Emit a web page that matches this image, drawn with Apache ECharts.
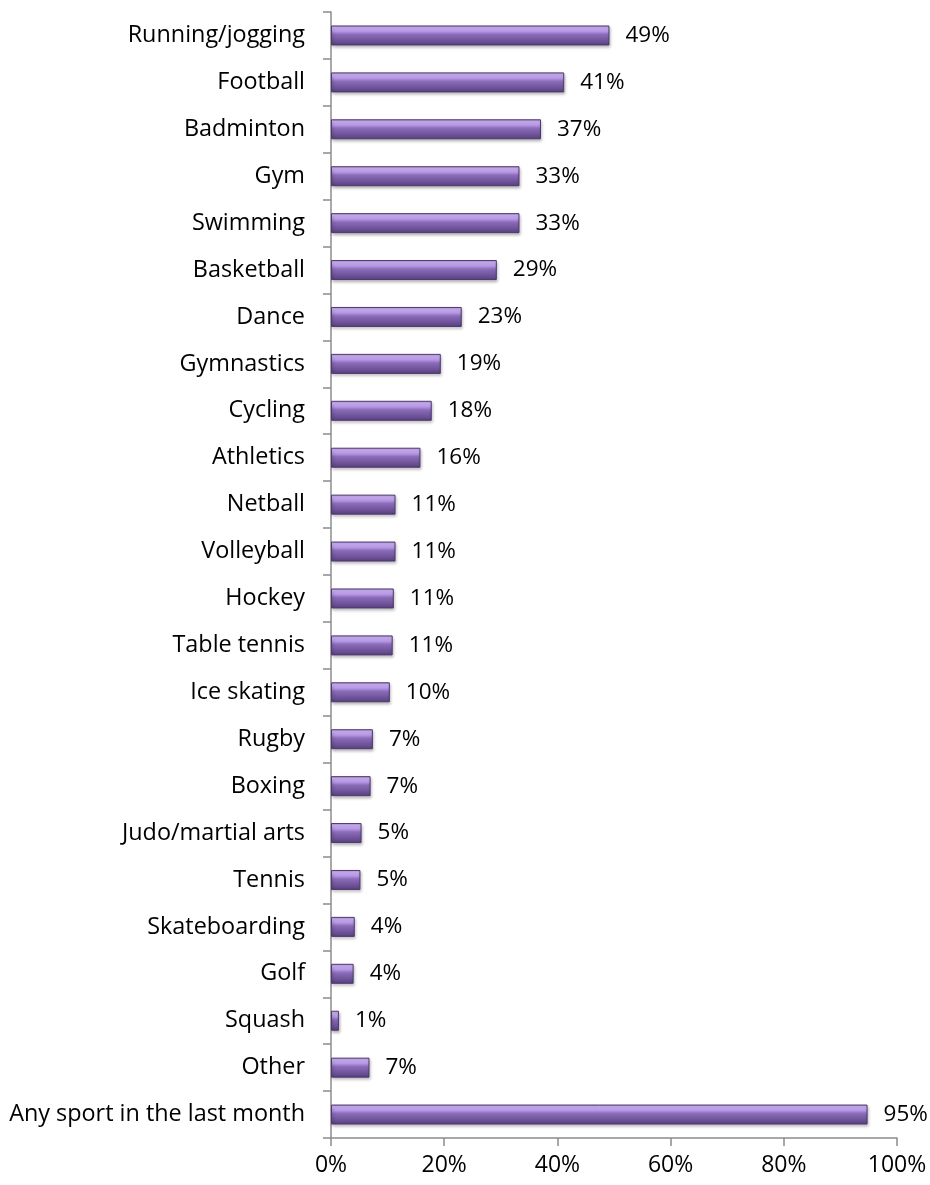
<!DOCTYPE html>
<html>
<head>
<meta charset="utf-8">
<style>
  html, body { margin: 0; padding: 0; background: #fff; }
  #chart { width: 930px; height: 1185px; }
</style>
<script src="https://cdn.jsdelivr.net/npm/echarts@6/dist/echarts.min.js"></script>
</head>
<body>
<div id="chart"></div>
<script>
// sports, listed top to bottom
const sports = [
  'Running/jogging', 'Football', 'Badminton', 'Gym', 'Swimming', 'Basketball',
  'Dance', 'Gymnastics', 'Cycling', 'Athletics', 'Netball', 'Volleyball',
  'Hockey', 'Table tennis', 'Ice skating', 'Rugby', 'Boxing', 'Judo/martial arts',
  'Tennis', 'Skateboarding', 'Golf', 'Squash', 'Other', 'Any sport in the last month'
]
// share of respondents, %
const shares = [
  49.2, 41.2, 37.1, 33.3, 33.3, 29.3,
  23.1, 19.4, 17.8, 15.8, 11.4, 11.4,
  11.1, 10.9, 10.4, 7.4, 7.0, 5.4,
  5.2, 4.2, 4.0, 1.4, 6.8, 94.8
]
const xTicks = [0, 20, 40, 60, 80, 100]

const font = '"Open Sans", "Noto Sans", sans-serif'
const axisGrey = '#8c8c8c'

const chart = echarts.init(document.getElementById('chart'))

chart.setOption({
  animation: false,
  grid: { left: 331, right: 33, top: 12, bottom: 47 },
  xAxis: {
    type: 'value',
    min: xTicks[0],
    max: xTicks[xTicks.length - 1],
    interval: 20,
    axisLine: { show: true, lineStyle: { color: axisGrey, width: 1.5 } },
    axisTick: { show: true, length: 8, lineStyle: { color: axisGrey, width: 1.5 } },
    splitLine: { show: false },
    axisLabel: {
      color: '#000', fontFamily: font, fontSize: 23, margin: 16,
      formatter: '{value}%'
    }
  },
  yAxis: {
    type: 'category',
    data: sports,
    inverse: true,
    axisLine: { show: true, lineStyle: { color: axisGrey, width: 1.5 } },
    axisTick: { show: true, length: 8, lineStyle: { color: axisGrey, width: 1.5 } },
    axisLabel: { color: '#000', fontFamily: font, fontSize: 23.4, margin: 26 }
  },
  series: [
    {
      type: 'bar',
      data: shares,
      barWidth: 20,
      itemStyle: {
        color: new echarts.graphic.LinearGradient(0, 0, 0, 1, [
          { offset: 0, color: '#a889d6' },
          { offset: 0.12, color: '#d3b7fa' },
          { offset: 0.3, color: '#b596e6' },
          { offset: 0.45, color: '#8a6cb8' },
          { offset: 0.8, color: '#6c5096' },
          { offset: 1, color: '#553f7c' }
        ]),
        borderColor: '#4e3a70',
        borderWidth: 1,
        shadowColor: 'rgba(0, 0, 0, 0.3)',
        shadowBlur: 3,
        shadowOffsetX: 1,
        shadowOffsetY: 2
      },
      label: {
        show: true,
        position: 'right',
        distance: 16,
        color: '#000',
        fontFamily: font,
        fontSize: 22.5,
        formatter: p => Math.round(p.value) + '%'
      }
    }
  ]
})
</script>
</body>
</html>
